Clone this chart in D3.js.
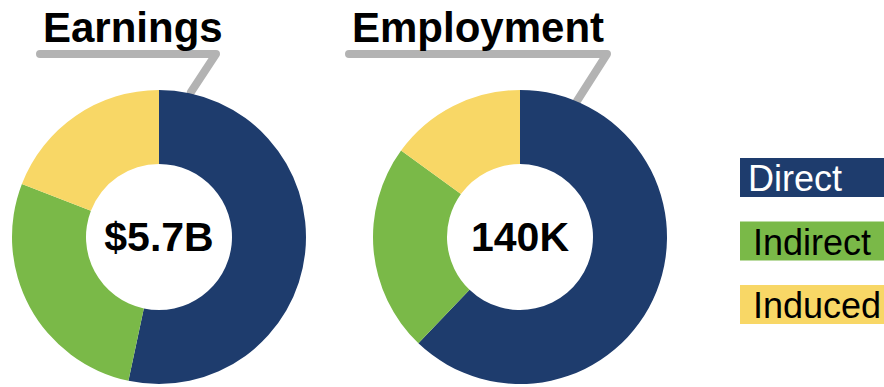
<!DOCTYPE html>
<html>
<head>
<meta charset="utf-8">
<script src="https://cdn.jsdelivr.net/npm/d3@7"></script>
<style>
  html, body { margin: 0; padding: 0; background: #fff; }
  svg { display: block; font-family: "Liberation Sans", Arial, sans-serif; }
</style>
</head>
<body>
<svg id="chart" width="884" height="387"></svg>
<script>
// Economic impact breakdown
const categories = ["Direct", "Indirect", "Induced"];
const colors = ["#1E3C6D", "#7AB948", "#F8D766"];
const textColors = ["#ffffff", "#000000", "#000000"];

const earningsValues = [3.04, 1.57, 1.09];   // $ billions
const employmentValues = [87, 32, 21];       // thousands of jobs

const titles = ["Earnings", "Employment"];
const totals = ["$5.7B", "140K"];

const svg = d3.select("#chart");

const outerR = 147, innerR = 73;
const centers = [{ x: 159, y: 237 }, { x: 520, y: 237 }];

const pie = d3.pie().sort(null).value(d => d);
const arc = d3.arc().innerRadius(innerR).outerRadius(outerR);

// Title leader lines (drawn first so the donuts sit over their ends)
const leaders = [
  [[40, 54], [216, 54], [191, 92]],
  [[349, 54], [607, 54], [577, 101]]
];
svg.selectAll("path.leader")
  .data(leaders)
  .join("path")
  .attr("class", "leader")
  .attr("d", d3.line())
  .attr("fill", "none")
  .attr("stroke", "#B3B3B3")
  .attr("stroke-width", 8)
  .attr("stroke-linecap", "round")
  .attr("stroke-linejoin", "round");

// Titles
const titleX = [43, 352];
svg.selectAll("text.title")
  .data(titles)
  .join("text")
  .attr("class", "title")
  .attr("x", (d, i) => titleX[i])
  .attr("y", 42)
  .attr("font-size", 42)
  .attr("font-weight", "bold")
  .attr("fill", "#000")
  .text(d => d);

// Donuts
[earningsValues, employmentValues].forEach((vals, i) => {
  const g = svg.append("g")
    .attr("transform", `translate(${centers[i].x},${centers[i].y})`);
  g.selectAll("path")
    .data(pie(vals))
    .join("path")
    .attr("d", arc)
    .attr("fill", (d, j) => colors[j]);
  g.append("text")
    .attr("text-anchor", "middle")
    .attr("y", 14)
    .attr("font-size", 41)
    .attr("font-weight", "bold")
    .attr("fill", "#000")
    .text(totals[i]);
});

// Legend
const legendY = d3.scalePoint().domain(categories).range([158, 285]);
const lg = svg.append("g");
const item = lg.selectAll("g")
  .data(categories)
  .join("g")
  .attr("transform", d => `translate(740,${legendY(d)})`);
item.append("rect")
  .attr("width", 144)
  .attr("height", 39)
  .attr("fill", (d, i) => colors[i]);
item.append("text")
  .attr("x", (d, i) => i === 0 ? 8 : 13)
  .attr("y", 33)
  .attr("font-size", 36)
  .attr("fill", (d, i) => textColors[i])
  .text(d => d);
</script>
</body>
</html>
